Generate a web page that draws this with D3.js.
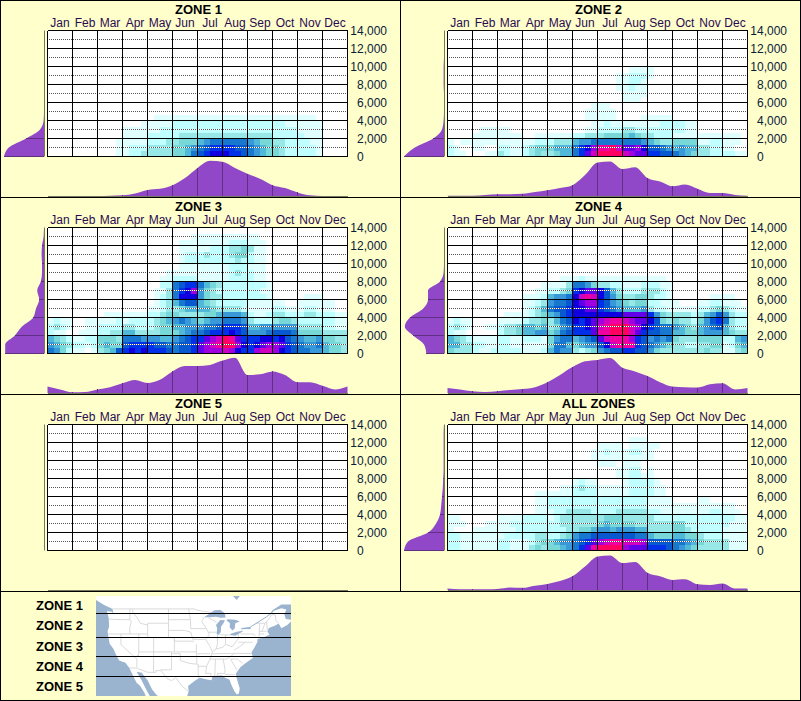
<!DOCTYPE html>
<html>
<head>
<meta charset="utf-8">
<script src="https://cdn.jsdelivr.net/npm/d3@7"></script>
<style>
html, body { margin: 0; padding: 0; background: #ffffcc; }
svg { display: block; }
text { font-family: "Liberation Sans", Arial, sans-serif; fill: #000; }
</style>
</head>
<body>
<svg id="chart" width="801" height="701"></svg>
<script>
// Basic labels
var months = ["Jan", "Feb", "Mar", "Apr", "May", "Jun", "Jul", "Aug", "Sep", "Oct", "Nov", "Dec"];
var elevTicks = [0, 2000, 4000, 6000, 8000, 10000, 12000, 14000];
var elevMinor = [1000, 3000, 5000, 7000, 9000, 11000, 13000];
var zoneNames = ["ZONE 1", "ZONE 2", "ZONE 3", "ZONE 4", "ZONE 5", "ALL ZONES"];

// Heat levels, one char per cell (hex 0-f), one group per month, rows listed
// top down and ending at the bottom row. Missing top rows are blank.
var heat1 = [
  "0000 0000 0000 0000 0111 1111 1111 1111 1111 1111 1110 0000",
  "0000 0000 0000 0001 1111 2222 2222 2222 2222 2211 1111 0000",
  "0000 0000 0000 1111 1122 2222 2222 2222 2222 2222 1111 0000",
  "0000 0000 0000 1111 2222 2333 3333 3333 3333 2222 2111 0000",
  "0000 0000 0001 1111 2223 3444 5677 7777 6544 3322 2211 0000",
  "0000 0000 0001 1222 3333 4456 7899 9988 7654 4322 2221 0000",
  "0000 0000 0001 1223 3333 4457 89aa a998 7654 4322 2221 0000"
];
var heat2 = [
  "0000 0000 0000 0000 0000 0000 0000 0111 1000 0000 0000 0000",
  "0000 0000 0000 0000 0000 0000 0001 1222 1000 0000 0000 0000",
  "0000 0000 0000 0000 0000 0000 0001 1221 0000 0000 0000 0000",
  "0000 0000 0000 0000 0000 0000 0001 1211 0000 0000 0000 0000",
  "0000 0000 0000 0000 0000 0000 0000 1111 0000 0000 0000 0000",
  "0000 0000 0000 0000 0000 0000 0000 1110 0000 0000 0000 0000",
  "0000 0000 0000 0000 0000 0001 1100 0000 0000 0000 0000 0000",
  "0000 0000 0000 0000 0000 0011 1110 0000 0000 0000 0000 0000",
  "0000 0000 0000 0000 0000 0011 1110 0001 1111 0000 0000 0000",
  "0000 0000 0000 0000 0000 0001 1211 1111 1122 2211 0000 0000",
  "0000 0111 1100 0000 0000 0011 2222 3322 2222 2211 0000 0000",
  "0000 1111 1111 0011 1111 2233 3444 4543 3222 1111 1111 1110",
  "1011 1111 1111 1122 2333 5667 7777 7776 5433 4444 1122 1110",
  "2100 1100 2211 2344 4555 79ac eefd bbca 8876 5655 3322 1100",
  "2110 0011 3211 2343 3455 79bd ffff dcbb 9988 7654 3322 2211"
];
var heat3 = [
  "0000 0000 0000 0000 0000 0001 1111 1111 1100 0000 0000 0000",
  "0000 0000 0000 0000 0000 0111 1111 1222 1110 0000 0000 0000",
  "0000 0000 0000 0000 0000 0111 1122 2334 3110 0000 0000 0000",
  "0000 0000 0000 0000 0000 0122 2322 2344 2110 0000 0000 0000",
  "0000 0000 0000 0000 0000 0122 2222 2232 2110 0000 0000 0000",
  "0000 0000 0000 0000 0000 0111 1111 1222 1110 0000 0000 0000",
  "0000 0000 0000 0000 0001 1111 1111 1232 2110 0000 0000 0000",
  "0000 0000 0000 0000 0011 2222 1111 1222 2110 0000 0000 0000",
  "0000 0000 0000 0000 0022 7899 7543 2222 2221 0000 0000 0000",
  "0000 0000 0000 0000 0113 79ac 6432 2222 2211 0000 0000 0000",
  "0000 0000 0000 0000 0123 7aaa 6433 2222 2221 0000 0111 0000",
  "0000 0000 0000 0000 0123 5788 5432 2222 1111 1100 1111 1100",
  "0000 0000 0000 0000 1123 3455 5543 3332 1111 2211 1221 1100",
  "0000 0000 0111 1111 2234 4333 3445 6665 2112 3322 2332 2211",
  "1211 0011 1112 1222 2345 6765 4566 7776 3222 3443 2222 2211",
  "2321 0011 2222 3322 2344 5566 6778 9998 5566 6666 3333 2211",
  "2110 0111 2233 5533 3344 4567 7899 9a98 6667 8887 4444 3333",
  "5432 1122 4443 7776 6655 6789 9bcd feb9 99aa 9a87 6556 4433",
  "6543 2212 4544 8999 9887 7889 bcde ffca 9abc cb98 7667 5443",
  "7642 1101 3458 9a9a 9998 7889 bccc dca9 9cdd ca98 7766 5443"
];
var heat4 = [
  "0000 0000 0000 0000 0011 1211 1111 1111 1110 0000 0000 0000",
  "0000 0000 0000 0001 1113 7764 3322 1112 2211 0000 0000 0000",
  "0000 0000 0000 0011 2234 9abb a853 2223 3321 0000 0000 0000",
  "0000 0000 0000 1112 5667 aded a864 3344 3221 0000 0011 1100",
  "0000 0000 0000 1123 6778 abcc 9865 4344 2211 1000 1122 1110",
  "0000 0000 0000 1235 7889 aabb 9876 5556 3221 1111 2234 3211",
  "0000 0000 0111 1234 5689 aaaa aaaa bbbb 9643 3332 3568 6322",
  "1211 0000 1111 2334 3578 a9ab cdee dcbb a843 4332 4689 7322",
  "2321 0011 2334 5545 3467 99ab deff fdca 9877 6543 5678 5322",
  "2110 0000 2334 5566 4578 999b eeff fdb9 8877 5544 5666 5433",
  "5432 1111 2211 2221 4677 5678 bdee ec98 6767 4333 4444 2256",
  "5533 2211 2211 1111 4775 4566 8ade ee98 7654 3322 3344 1245",
  "4333 2112 2222 1112 5766 3234 6788 9988 6433 3333 3433 1134"
];
var heat5 = [];
var heatAll = [
  "0000 0000 0000 0000 0000 0000 0000 0111 0000 0000 0000 0000",
  "0000 0000 0000 0000 0000 0000 1111 0111 1100 0000 0000 0000",
  "0000 0000 0000 0000 0000 0001 1211 1221 1000 0000 0000 0000",
  "0000 0000 0000 0000 0000 0001 1111 1111 1000 0000 0000 0000",
  "0000 0000 0000 0000 0000 0000 1110 1110 0000 0000 0000 0000",
  "0000 0000 0000 0000 0000 0000 0001 1220 1000 0000 0000 0000",
  "0000 0000 0000 0000 0000 0000 0001 1221 1000 0000 0000 0000",
  "0000 0000 0000 0000 0000 1211 0000 1222 2100 0000 0000 0000",
  "0000 0000 0000 0000 0011 2322 1111 1222 2110 0000 0000 0000",
  "0000 0000 0000 0011 1111 2222 1111 1222 2110 0000 0000 0000",
  "0000 0000 0000 0011 2222 2222 2222 2222 1111 0000 1100 0000",
  "0000 0000 0000 0011 2222 2222 2222 2222 1111 1111 1111 1100",
  "0000 0000 0000 0011 1223 3332 2223 3333 2211 1111 1122 1110",
  "1100 0000 1111 2222 1233 3333 3444 3333 3222 2222 2222 2211",
  "1110 0011 1122 2222 2233 3333 4544 4433 3333 4422 2222 2111",
  "1000 1111 1112 2222 2223 3445 6656 6655 3333 4432 2222 1111",
  "2211 1111 1222 2233 2234 6778 8888 8877 5444 5544 3222 1111",
  "2211 1111 2211 1234 4566 789b cdee dddc 8888 7765 4333 3111",
  "2211 1111 2211 1343 4456 79be ffff cbbb 9998 7654 3333 3111"
];
var heatGrids = [heat1, heat2, heat3, heat4, heat5, heatAll];

var heatColors = ["#ffffff", "#e0ffff", "#c0ffff", "#98e8e8", "#78d8d8", "#50b8d8", "#3898d8", "#1878d0",
  "#0858d0", "#0030e8", "#1000e0", "#6000e8", "#a000e0", "#d000c0", "#f000a0", "#ff0060"];

// Month profile along the bottom, one value each half month
var month1 = [0, 0, 0, 0, 0, .01, .02, .07, .17, .2, .3, .5, .78, .98, .95, .78, .62, .48, .3, .22, .1, .02, 0, 0, 0];
var month2 = [.01, .01, .01, .03, .05, .05, .06, .11, .16, .22, .3, .58, .93, .96, .75, .8, .5, .4, .27, .32, .2, .08, .08, .03, .01];
var month3 = [.18, .1, .02, .03, .1, .16, .27, .36, .28, .37, .6, .75, .75, .78, .9, .98, .5, .52, .6, .5, .3, .3, .2, .1, .18];
var month4 = [.14, .1, .05, .03, .05, .08, .11, .16, .3, .5, .72, .88, .92, .97, .7, .6, .47, .3, .18, .16, .15, .24, .27, .1, .14];
var month5 = [0, 0, 0, 0, 0, 0, 0, 0, 0, 0, 0, 0, 0, 0, 0, 0, 0, 0, 0, 0, 0, 0, 0, 0, 0];
var monthAll = [.04, .02, .02, .02, .03, .07, .06, .12, .17, .25, .38, .65, .93, .96, .75, .78, .48, .38, .28, .3, .16, .14, .18, .04, .04];
var monthProfiles = [month1, month2, month3, month4, month5, monthAll];

// Elevation profile on the left, one value each 1000 from 0 to 14000
var elev1 = [1, .88, .45, .1, .01, 0, 0, 0, 0, 0, 0, 0, 0, 0, 0];
var elev2 = [1, .73, .27, .05, .01, 0, 0, 0, .01, .01, .01, 0, 0, 0, 0];
var elev3 = [.97, .97, .73, .55, .27, .2, .12, .17, .08, .05, .05, .06, .05, .01, 0];
var elev4 = [.44, .5, .77, .98, .85, .52, .4, .4, .1, .01, 0, 0, 0, 0, 0];
var elev5 = [0, 0, 0, 0, 0, 0, 0, 0, 0, 0, 0, 0, 0, 0, 0];
var elevAll = [1, .9, .4, .2, .1, .07, .05, .03, .02, .01, .01, .01, .01, .01, 0];
var elevProfiles = [elev1, elev2, elev3, elev4, elev5, elevAll];

// Key map, all as [lon, lat]
var landOutline = [[-128.4, 51.5], [-125.5, 50], [-123.3, 49.2], [-122.8, 48.9], [-122.5, 47.5], [-123, 48.2], [-124.7, 48.4],
  [-124.1, 46.3], [-124, 44], [-124.5, 42.8], [-124.2, 41], [-123.8, 39.3], [-122.5, 37.8], [-121.9, 36.6], [-120.6, 34.6],
  [-118.5, 34], [-117.2, 32.6], [-116, 30.5], [-114.8, 28.5], [-113.5, 27.5], [-112, 25.5], [-111.7, 24.7], [-110.3, 24.7],
  [-111.5, 26.5], [-113, 29], [-114.7, 31.5], [-113, 31.2], [-111, 29], [-109.5, 26.5], [-108, 25], [-107.5, 24.7], [-97.7, 24.7],
  [-97.2, 26], [-97.4, 27.5], [-95, 29], [-93.5, 29.8], [-91, 29.3], [-89.5, 29.1], [-89.2, 30.3], [-86, 30.4], [-84.8, 29.7],
  [-83.5, 29.3], [-82.8, 27.8], [-81.8, 26], [-81, 25.1], [-80.3, 25.4], [-80, 26.8], [-81, 29.5], [-81.3, 31], [-79.8, 32.7],
  [-78, 33.9], [-75.6, 35.3], [-76, 37], [-75.2, 38], [-74.1, 39.7], [-74, 40.6], [-72, 41], [-70.6, 41.6], [-70, 41.8],
  [-70.7, 42.7], [-70.2, 43.7], [-68, 44.4], [-66.9, 44.9], [-66, 43.6], [-64, 44.5], [-62.75, 45.5], [-62.75, 46], [-64.5, 46.2],
  [-65, 47.5], [-64.3, 48.8], [-66, 49.2], [-68.5, 48.5], [-70, 47.3], [-69, 48.6], [-66, 50.2], [-62.75, 50.2], [-62.75, 52.6],
  [-128.4, 52.6]];
var lakes = [
  [[-92, 46.7], [-90, 46.7], [-88, 46.8], [-86.5, 46.5], [-84.8, 46.6], [-85, 47.8], [-86.5, 48.7], [-88.5, 48.6], [-90, 47.8]],
  [[-87.8, 42], [-87.2, 41.7], [-86.4, 42.5], [-86.3, 44], [-85.5, 45], [-85, 45.8], [-86.5, 45.9], [-87.5, 45], [-88, 44.5], [-87.6, 43.5]],
  [[-84.5, 45.8], [-83.3, 45], [-83.4, 43.9], [-82.5, 43], [-81.7, 43.5], [-81.5, 45], [-80, 45.5], [-81.5, 46], [-84, 46.1]],
  [[-83.4, 41.7], [-81.5, 41.5], [-79, 42.7], [-79, 42.9], [-81, 42.6], [-83, 42.1]],
  [[-79.7, 43.3], [-76.3, 43.4], [-76.3, 44], [-77.5, 43.9], [-79.3, 43.7]],
  [[-82.3, 52.6], [-81, 51.5], [-80, 52.6]]
];
var stLawrence = [[-76.3, 44], [-71, 46.8], [-69, 48]];
var borders = [
  [[-123, 49], [-95.2, 49], [-94.6, 48.7], [-92, 48.3], [-89.5, 48]],
  [[-74.7, 45], [-71.5, 45], [-70.3, 46], [-69.2, 47.4], [-68, 47.3], [-67.8, 45.7], [-67, 45]],
  [[-117.1, 32.5], [-114.7, 32.5], [-111, 31.3], [-108.2, 31.3], [-108.2, 31.8], [-106.5, 31.8], [-104.5, 29.6], [-103, 29], [-101.5, 29.8], [-99.5, 27.5], [-97.2, 25.9]],
  [[-124, 46.2], [-123, 46.1], [-119, 46], [-117, 46]],
  [[-117, 49], [-117, 46], [-116.5, 45.5], [-117, 44], [-117, 42]],
  [[-124.2, 42], [-111, 42]],
  [[-120, 42], [-120, 39], [-114.6, 35], [-114.7, 32.7]],
  [[-114, 42], [-114, 36], [-114.6, 36]],
  [[-114, 37], [-102, 37]],
  [[-116, 49], [-116, 48], [-114.5, 46.5], [-113.5, 45], [-111, 44.5]],
  [[-111, 45], [-104, 45]],
  [[-111, 45], [-111, 41], [-104, 41], [-104, 45]],
  [[-109, 41], [-109, 31.3]],
  [[-102, 41], [-102, 37]],
  [[-104, 41], [-102, 41], [-102, 40], [-95.3, 40]],
  [[-102, 37], [-94.6, 37]],
  [[-94.6, 39.1], [-94.6, 36.5]],
  [[-103, 37], [-103, 32], [-106.6, 32]],
  [[-103, 36.5], [-100, 36.5], [-100, 34.6], [-97, 33.8], [-94.5, 33.6], [-94, 33.5]],
  [[-94.5, 36.5], [-94.5, 33.6]],
  [[-94, 33.5], [-94, 31], [-93.8, 29.7]],
  [[-94, 33], [-91.2, 33]],
  [[-104, 49], [-104, 45]],
  [[-104, 46], [-96.6, 46]],
  [[-104, 43], [-98.5, 43], [-96.5, 42.5]],
  [[-97.2, 49], [-96.6, 46], [-96.5, 43.5], [-91.2, 43.5]],
  [[-96.5, 42.5], [-95.8, 40.5], [-91.5, 40.5]],
  [[-92, 46.7], [-92.8, 45.5], [-91.2, 43.5], [-90.2, 41.8], [-91.4, 40.4], [-90.2, 38.8], [-89.2, 37], [-90, 35], [-91.2, 33], [-91.5, 31], [-89.7, 31], [-89.7, 30.2]],
  [[-94.5, 36.5], [-90, 36.5]],
  [[-90.6, 42.5], [-87.8, 42.5]],
  [[-90.5, 46.5], [-87.8, 45.3]],
  [[-87.5, 41.7], [-87.5, 39.3], [-88, 37.8]],
  [[-89.2, 37], [-88, 37.8], [-85.7, 38.3], [-84.8, 39.1], [-82.6, 38.4], [-80.6, 40.6]],
  [[-84.8, 41.7], [-84.8, 39.1]],
  [[-86.8, 41.8], [-83.4, 41.7]],
  [[-80.5, 42], [-80.5, 40.6]],
  [[-79.8, 42], [-75.3, 42], [-74.7, 41.4]],
  [[-80.5, 39.7], [-75.7, 39.7]],
  [[-90, 35], [-84.3, 35], [-81.7, 36.6], [-89.5, 36.5]],
  [[-81.7, 36.6], [-75.9, 36.55]],
  [[-88.2, 35], [-88.4, 30.3]],
  [[-85.6, 35], [-85, 32.3], [-85, 31], [-87.5, 31], [-87.5, 30.3]],
  [[-85, 30.7], [-82, 30.6], [-81.5, 30.7]],
  [[-83.1, 35], [-81, 32]],
  [[-83.1, 35], [-80.8, 35], [-79, 33.8]],
  [[-81.9, 37.5], [-80, 38.5], [-78.4, 39.5]],
  [[-73.3, 45], [-73.5, 41.3]],
  [[-71.5, 45], [-72.5, 42.7]],
  [[-73.5, 42.7], [-70.9, 42.8]],
  [[-73.5, 42], [-71.8, 42]],
  [[-71, 45.3], [-70.7, 43.1]]
];
var zoneLats = [47.74, 41.04, 35.73, 30.14];
var keyNames = ["ZONE 1", "ZONE 2", "ZONE 3", "ZONE 4", "ZONE 5"];
var keyBaselines = [610, 630, 651, 671, 691];

var svg = d3.select("#chart");
var paper = "#ffffcc", purple = "#9048c8", purpleLine = "#603080", axisGray = "#777760";

svg.append("rect").attr("width", 801).attr("height", 701).attr("fill", paper);

// Scales shared by all six panels, which only shift by their own offset
var x = d3.scaleLinear().domain([0, 12]).range([47.5, 347.5]);
var y = d3.scaleLinear().domain([0, 14000]).range([156.5, 30.5]);
var monthArea = d3.scaleLinear().domain([0, 1]).range([196, 160]);
var elevArea = d3.scaleLinear().domain([0, 1]).range([44, 4]);
var heatScale = d3.scaleOrdinal().domain(d3.range(16)).range(heatColors);

var drawPanel = function(i) {
  var g = svg.append("g")
    .attr("transform", "translate(" + (i % 2) * 400 + "," + Math.floor(i / 2) * 197 + ")");

  g.append("text").attr("x", 198.5).attr("y", 13.5).attr("text-anchor", "middle")
    .style("font-size", "13px").style("font-weight", "bold").text(zoneNames[i]);

  g.selectAll(".month").data(months).enter().append("text")
    .attr("x", function(d, m) { return x(m + 0.5); })
    .attr("y", 26.5)
    .attr("text-anchor", "middle")
    .style("font-size", "12px").style("fill", "#2a0a50")
    .text(function(d) { return d; });

  g.append("rect").attr("x", x(0)).attr("y", y(14000))
    .attr("width", x(12) - x(0)).attr("height", y(0) - y(14000)).attr("fill", "#fff");

  // Heat cells, 4 per month and 3 per 2000
  var rows = heatGrids[i];
  var cells = [];
  rows.forEach(function(row, r) {
    var fromBottom = rows.length - 1 - r;
    row.replace(/ /g, "").split("").forEach(function(c, col) {
      var level = parseInt(c, 16);
      if (level > 0) cells.push({ col: col, row: fromBottom, level: level });
    });
  });
  var cellH = 2000 / 3;
  g.selectAll(".cell").data(cells).enter().append("rect")
    .attr("x", function(d) { return x(d.col / 4); })
    .attr("y", function(d) { return y((d.row + 1) * cellH); })
    .attr("width", function(d) { return x((d.col + 1) / 4) - x(d.col / 4); })
    .attr("height", function(d) { return y(d.row * cellH) - y((d.row + 1) * cellH); })
    .attr("fill", function(d) { return heatScale(d.level); })
    .attr("shape-rendering", "crispEdges");

  // Dotted lines: white underneath so they still show on the dark cells.
  // Start on a whole pixel so the 1,1 dash lands on single pixels.
  elevMinor.forEach(function(v) {
    g.append("line").attr("x1", x(0) - 0.5).attr("x2", x(12)).attr("y1", y(v)).attr("y2", y(v))
      .attr("stroke", "#fff");
    g.append("line").attr("x1", x(0) - 0.5).attr("x2", x(12)).attr("y1", y(v)).attr("y2", y(v))
      .attr("stroke", "#555").attr("stroke-dasharray", "1,1");
  });
  elevTicks.forEach(function(v) {
    g.append("line").attr("x1", x(0)).attr("x2", x(12)).attr("y1", y(v)).attr("y2", y(v))
      .attr("stroke", "#000").attr("shape-rendering", "crispEdges");
  });
  d3.range(13).forEach(function(m) {
    g.append("line").attr("x1", x(m)).attr("x2", x(m)).attr("y1", y(0)).attr("y2", y(14000))
      .attr("stroke", "#000").attr("shape-rendering", "crispEdges");
  });

  g.selectAll(".tick").data(elevTicks).enter().append("text")
    .attr("x", function(d) { return d === 0 ? 357 : 387; })
    .attr("y", function(d) { return y(d) + 4.5; })
    .attr("text-anchor", function(d) { return d === 0 ? "start" : "end"; })
    .style("font-size", "12px").style("fill", "#0a2038")
    .text(function(d) { return d3.format(",")(d); });

  // Month profile
  var mp = monthProfiles[i];
  var mArea = d3.area().curve(d3.curveMonotoneX)
    .x(function(d, k) { return x(k / 2); })
    .y0(monthArea(0))
    .y1(function(d) { return monthArea(d); });
  g.append("path").attr("d", mArea(mp)).attr("fill", purple);
  d3.range(1, 12).forEach(function(m) {
    g.append("line").attr("x1", x(m)).attr("x2", x(m))
      .attr("y1", monthArea(0)).attr("y2", monthArea(mp[m * 2]))
      .attr("stroke", purpleLine).attr("shape-rendering", "crispEdges");
  });
  g.append("line").attr("x1", x(0)).attr("x2", x(12)).attr("y1", 196.5).attr("y2", 196.5)
    .attr("stroke", axisGray).attr("shape-rendering", "crispEdges");

  // Elevation profile
  var ep = elevProfiles[i];
  var eArea = d3.area().curve(d3.curveMonotoneY)
    .y(function(d, k) { return y(k * 1000); })
    .x0(elevArea(0))
    .x1(function(d) { return elevArea(d); });
  g.append("path").attr("d", eArea(ep)).attr("fill", purple);
  elevTicks.forEach(function(v) {
    g.append("line").attr("x1", elevArea(0)).attr("x2", elevArea(ep[v / 1000]))
      .attr("y1", y(v)).attr("y2", y(v))
      .attr("stroke", purpleLine).attr("shape-rendering", "crispEdges");
  });
  g.append("line").attr("x1", 44.5).attr("x2", 44.5).attr("y1", y(14000)).attr("y2", y(0))
    .attr("stroke", axisGray);
};

d3.range(6).forEach(drawPanel);

// Key map at the bottom left
var lon = d3.scaleLinear().domain([-128.4, -62.75]).range([96, 291]);
var lat = d3.scaleLinear().domain([52.6, 24.7]).range([596, 696]);
var mapLine = d3.line().x(function(d) { return lon(d[0]); }).y(function(d) { return lat(d[1]); });

svg.append("rect").attr("x", lon(-128.4)).attr("y", lat(52.6))
  .attr("width", lon(-62.75) - lon(-128.4)).attr("height", lat(24.7) - lat(52.6))
  .attr("fill", "#9ab3cf");
svg.append("path").attr("d", mapLine(landOutline) + "Z").attr("fill", "#ffffff");
borders.forEach(function(b) {
  svg.append("path").attr("d", mapLine(b)).attr("fill", "none").attr("stroke", "#d0d0d0").attr("stroke-width", 0.8);
});
lakes.forEach(function(l) {
  svg.append("path").attr("d", mapLine(l) + "Z").attr("fill", "#9ab3cf");
});
svg.append("path").attr("d", mapLine(stLawrence)).attr("fill", "none").attr("stroke", "#9ab3cf").attr("stroke-width", 1);

zoneLats.forEach(function(v) {
  svg.append("line").attr("x1", lon(-128.4)).attr("x2", lon(-62.75))
    .attr("y1", Math.floor(lat(v)) + 0.5).attr("y2", Math.floor(lat(v)) + 0.5)
    .attr("stroke", "#000").attr("shape-rendering", "crispEdges");
});

keyNames.forEach(function(name, k) {
  svg.append("text").attr("x", 36).attr("y", keyBaselines[k])
    .style("font-size", "13px").style("font-weight", "bold").text(name);
});

// Frame and panel dividers
[0.5, 197.5, 394.5, 591.5, 700.5].forEach(function(v) {
  svg.append("line").attr("x1", 0).attr("x2", 801).attr("y1", v).attr("y2", v).attr("stroke", "#000").attr("shape-rendering", "crispEdges");
});
[0.5, 800.5].forEach(function(v) {
  svg.append("line").attr("x1", v).attr("x2", v).attr("y1", 0).attr("y2", 701).attr("stroke", "#000").attr("shape-rendering", "crispEdges");
});
svg.append("line").attr("x1", 400.5).attr("x2", 400.5).attr("y1", 0).attr("y2", 591.5).attr("stroke", "#000").attr("shape-rendering", "crispEdges");
</script>
</body>
</html>
